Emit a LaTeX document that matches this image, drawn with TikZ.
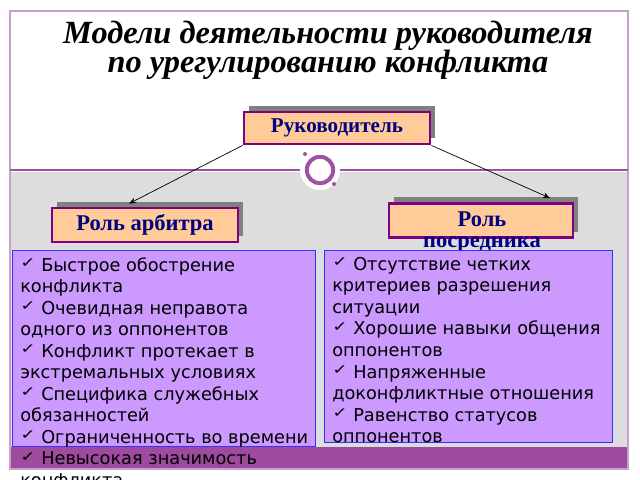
\documentclass[tikz,border=0pt]{standalone}
\usepackage{fontspec}
\setmainfont{Liberation Serif}
\newfontfamily\listfont{DejaVu Sans}
\usetikzlibrary{shadows,arrows.meta,calc}

\definecolor{peach}{HTML}{FFCC99}
\definecolor{plum}{HTML}{800080}
\definecolor{navy}{HTML}{000080}
\definecolor{lilac}{HTML}{CC99FF}
\definecolor{framepink}{HTML}{C8A0D0}
\definecolor{panelgray}{HTML}{DDDDDD}
\definecolor{barpurple}{HTML}{9E4A9E}
\definecolor{linepurple}{HTML}{A050A0}
\definecolor{listblue}{HTML}{3333FF}
\newcommand{\chk}{\raisebox{2.5pt}{\scalebox{1.45}[1.1]{\fontsize{9}{9}\selectfont ✓}}\ }
\newcommand{\tightskip}{\lineskiplimit=-20pt\relax}

\begin{document}
\begin{tikzpicture}[x=0.025cm, y=-0.025cm,
    rolebox/.style={draw=plum, line width=2pt, fill=peach, text=navy,
      font=\bfseries\fontsize{16}{16}\selectfont,
      general shadow={fill=gray, shadow xshift=0.13cm, shadow yshift=0.15cm}},
    listbox/.style={draw=listblue, line width=0.6pt, fill=lilac, inner sep=0pt},
    listtext/.style={anchor=north west, align=left, inner sep=0pt,
      font=\listfont\fontsize{12.6}{15.3}\selectfont\tightskip},
    link/.style={-{Stealth[length=5pt,width=4pt]}, line width=0.5pt}]

    \useasboundingbox (0,0) rectangle (640,480);
    % Background: white top, gray panel, purple bar
    \fill[white] (0,0) rectangle (640,480);
    \fill[panelgray] (10,172) rectangle (628,447);
    \fill[barpurple] (10,447) rectangle (628,469);
    \draw[framepink, line width=0.8pt] (10,11) rectangle (628,469);
    \draw[linepurple, line width=1.2pt] (10,170) -- (628,170);
    % Ring ornament
    \fill[white] (320,170) circle (0.5cm);
    \draw[linepurple, line width=2.8pt] (320,170) circle (0.33cm);
    \fill[linepurple] (305,154) circle (0.05cm);
    \fill[linepurple] (334,184) circle (0.05cm);

    % Title
    \node[font=\bfseries\itshape\fontsize{23}{20.5}\selectfont\tightskip, align=center]
      (title) at (328,50) {Модели деятельности руководителя\\по урегулированию конфликта};

    % Role boxes
    \node[rolebox, minimum width=4.65cm, minimum height=0.8cm,
      font=\bfseries\fontsize{15}{16}\selectfont] (mgr) at (337,128) {Руководитель};
    \node[rolebox, minimum width=4.65cm, minimum height=0.85cm] (arb) at (145,225) {Роль арбитра};
    \node[rolebox, minimum width=4.6cm, minimum height=0.85cm] (med) at (481,220.5) {};
    \node[text=navy, font=\bfseries\fontsize{16}{15.6}\selectfont\tightskip, align=center]
      (medtext) at (482,232) {Роль\\посредника};

    \draw[link] (mgr.south west) -- ($(arb.north)+(-16,-3)$);
    \draw[link] (mgr.south east) -- ($(med.north)+(69,-4)$);

    % Lists of conditions
    \node[listbox, minimum width=7.575cm, minimum height=4.9cm] (arblist) at (163.5,348) {};
    \node[listbox, minimum width=7.2cm, minimum height=4.8cm] (medlist) at (468,346) {};

    \node[listtext] (arbtext) at (20,257) {\chk Быстрое обострение\\конфликта\\
      \chk Очевидная неправота\\одного из оппонентов\\
      \chk Конфликт протекает в\\экстремальных условиях\\
      \chk Специфика служебных\\обязанностей\\
      \chk Ограниченность во времени\\
      \chk Невысокая значимость\\конфликта};
    \node[listtext] (medtext2) at (332,257) {\chk Отсутствие четких\\критериев разрешения\\ситуации\\
      \chk Хорошие навыки общения\\оппонентов\\
      \chk Напряженные\\доконфликтные отношения\\
      \chk Равенство статусов\\оппонентов};

\end{tikzpicture}
\end{document}
